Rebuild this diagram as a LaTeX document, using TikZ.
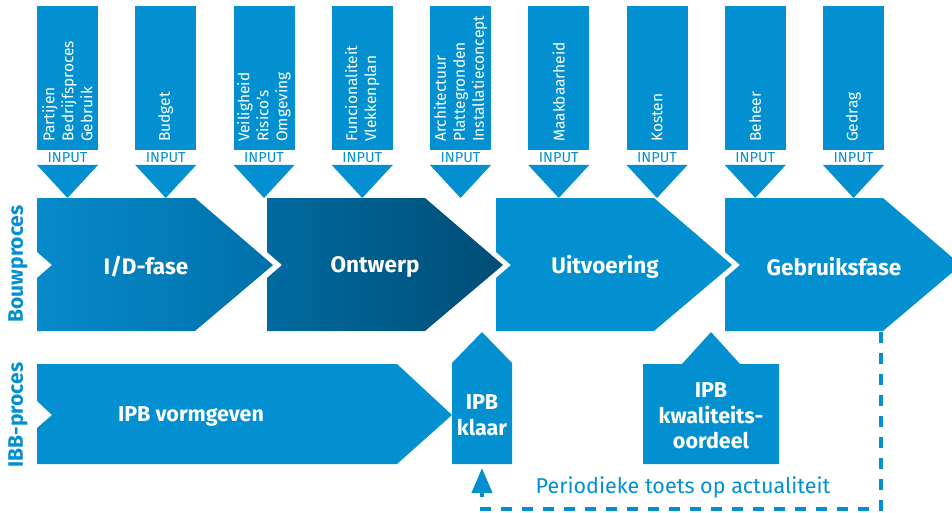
\documentclass[tikz,border=0pt]{standalone}
\usepackage{fontspec}
\setmainfont{Fira Sans}
\usepackage{xcolor}
\definecolor{hemel}{HTML}{0290D1}
\definecolor{idlinks}{HTML}{078ACB}
\definecolor{idrechts}{HTML}{0070A9}
\definecolor{ontlinks}{HTML}{006A9F}
\definecolor{ontrechts}{HTML}{004D75}
\usepackage{tikz}
\usetikzlibrary{arrows.meta}

\tikzset{
  fasetekst/.style={text=white, font=\bfseries\fontsize{22.5}{27}\selectfont, inner sep=0pt},
  ipbtekst/.style={text=white, font=\bfseries\fontsize{21.5}{25.5}\selectfont, align=center, inner sep=0pt},
  invoertekst/.style={text=white, font=\fontsize{15.5}{19}\selectfont, rotate=90, anchor=west, align=left, inner sep=0pt},
  invoerlabel/.style={text=hemel, font=\fontsize{14.5}{16}\selectfont, inner sep=0pt},
  rijlabel/.style={text=hemel, font=\bfseries\fontsize{21}{24}\selectfont, rotate=90, inner sep=0pt},
  toets/.style={draw=hemel, line width=4pt, dash pattern=on 11pt off 10pt,
    -{Triangle[length=25pt,width=20pt]}},
}

% fase-pijl met inkeping links, x0 = linkerkant
\newcommand{\fasepijl}[1]{(#1,198) -- ++(158,0) -- ++(78,67) -- ++(-78,66)
  -- ++(-158,0) -- ++(0,-53) -- ++(15,-13) -- ++(-15,-13) -- cycle}

\begin{document}
\begin{tikzpicture}[x=1pt, y=-1pt]
  \useasboundingbox (0,0) rectangle (952,513);
  \clip (0,0) rectangle (952,513);

  % invoerkolommen
  \foreach \t [count=\i from 0] in {{Partijen\\Bedrijfsproces\\Gebruik}, Budget,
      {Veiligheid\\Risico’s\\Omgeving}, {Funcionaliteit\\Vlekkenplan},
      {Architectuur\\Plattegronden\\Installatieconcept}, Maakbaarheid,
      Kosten, Beheer, Gedrag}{%
    \fill[hemel] ({37+98.25*\i},6) rectangle ++(61,144);
    \node[invoertekst] (invoer-\i) at ({67.5+98.25*\i},142) {\t};
    \node[invoerlabel] (input-\i) at ({67.5+98.25*\i},158) {INPUT};
    \fill[hemel] ({37+98.25*\i},165) -- ++(61,0) -- ++(-30.5,33) -- cycle;
  }

  % bouwproces
  \shade[left color=idlinks, right color=idrechts] \fasepijl{37};
  \shade[left color=ontlinks, right color=ontrechts] \fasepijl{267};
  \fill[hemel] \fasepijl{496};
  \fill[hemel] \fasepijl{725};
  \node[fasetekst] (fase-id) at (146,267) {I/D-fase};
  \node[fasetekst] (fase-ontwerp) at (375,267) {Ontwerp};
  \node[fasetekst] (fase-uitvoering) at (605,267) {Uitvoering};
  \node[fasetekst] (fase-gebruik) at (834,267) {Gebruiksfase};

  % ibb-proces
  \fill[hemel] (37,364) -- (397,364) -- (452,415) -- (397,464) -- (37,464)
    -- (37,428) -- (52,415) -- (37,401) -- cycle;
  \node[ipbtekst] (ipb-vorm) at (191,416) {IPB vormgeven};
  \fill[hemel] (452,464) -- (452,363) -- (482,332) -- (512,363) -- (512,464) -- cycle;
  \node[ipbtekst] (ipb-klaar) at (482,415) {IPB\\klaar};
  \fill[hemel] (643,464) -- (643,364) -- (682,364) -- (711,332) -- (740,364)
    -- (779,364) -- (779,464) -- cycle;
  \node[ipbtekst] (ipb-oordeel) at (711,416) {IPB\\kwaliteits-\\oordeel};

  \node[rijlabel] (rij-bouw) at (18,264) {Bouwproces};
  \node[rijlabel] (rij-ibb) at (18,415) {IBB-proces};

  % periodieke toets terug naar ipb klaar
  \coordinate (gebruik-hoek) at (881,332);
  \coordinate (toets-hoek) at (482,509);
  \coordinate (klaar-voet) at (482,468);
  \draw[toets] (gebruik-hoek) |- (toets-hoek) -- (klaar-voet);
  \node[text=hemel, font=\fontsize{21.5}{25}\selectfont] (toets-tekst) at (683,487)
    {Periodieke toets op actualiteit};
\end{tikzpicture}
\end{document}
